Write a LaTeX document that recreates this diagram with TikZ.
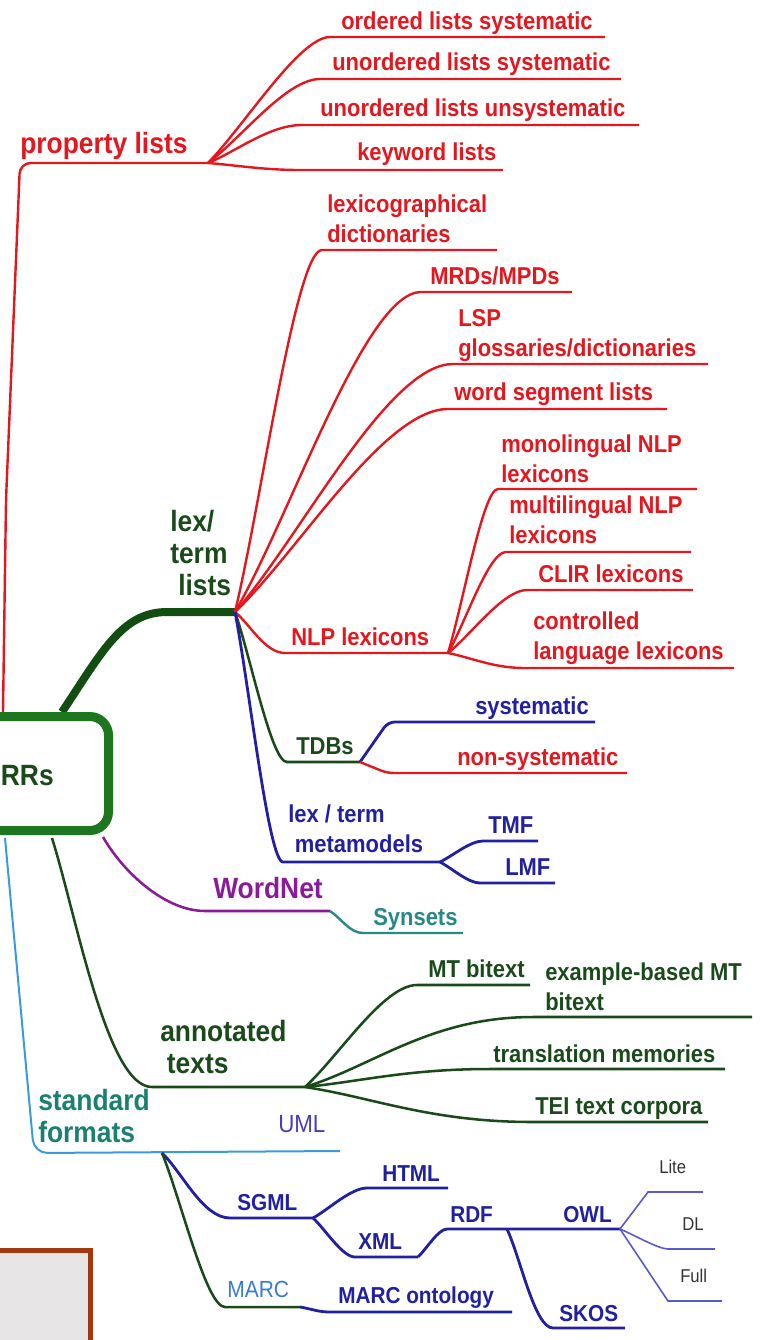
\documentclass[tikz,border=0pt]{standalone}
\usepackage{fontspec}
\setmainfont{Liberation Sans}[FakeStretch=0.9]
\usetikzlibrary{calc}
\definecolor{cred}{RGB}{228,22,30}
\definecolor{dgreen}{RGB}{26,74,26}
\definecolor{tgreen}{RGB}{18,78,18}
\definecolor{bgreen}{RGB}{30,118,30}
\definecolor{cblue}{RGB}{32,32,160}
\definecolor{cpurple}{RGB}{138,26,154}
\definecolor{cteal}{RGB}{40,136,136}
\definecolor{steal}{RGB}{26,128,112}
\definecolor{lblue}{RGB}{58,154,224}
\definecolor{umlc}{RGB}{72,60,192}
\definecolor{marcc}{RGB}{58,122,208}
\definecolor{owlc}{RGB}{90,90,208}
\definecolor{txtgray}{RGB}{50,50,50}
\definecolor{boxfill}{RGB}{231,229,230}
\definecolor{boxbrd}{RGB}{163,56,15}
\tikzset{
  br/.style 2 args={to path={.. controls ($(\tikztostart)!#1!(\tikztotarget)$) and ($(\tikztotarget)!#2!(\tikztostart |- \tikztotarget)$) .. (\tikztotarget) \tikztonodes}},
  brd/.style={br={0.3}{0.3}},
  lf/.style={font=\fontsize{18.3}{22}\selectfont\bfseries, inner sep=0pt, anchor=base west, align=left},
  big/.style={font=\fontsize{22}{24}\selectfont\bfseries, inner sep=0pt, anchor=base west, align=left},
  sm/.style={font=\fontsize{17.3}{21}\selectfont\bfseries, inner sep=0pt, anchor=base west},
  reg/.style={font=\fontsize{17.5}{21}\selectfont, inner sep=0pt, anchor=base west},
  tiny/.style={font=\fontsize{13.9}{16}\selectfont, inner sep=0pt, anchor=base west, text=txtgray},
  redl/.style={draw=cred, line width=1.8pt},
  bluel/.style={draw=cblue, line width=2.1pt},
  greenl/.style={draw=dgreen, line width=1.9pt},
  purpl/.style={draw=cpurple, line width=1.9pt},
  teall/.style={draw=cteal, line width=1.8pt},
  lbl/.style={draw=lblue, line width=1.5pt},
  owll/.style={draw=owlc, line width=1.2pt},
}
\begin{document}
\begin{tikzpicture}[x=0.75pt,y=-0.75pt]
\useasboundingbox (0,0) rectangle (762,1340);

% ---------- property lists ----------
\coordinate (pl0) at (3,712);
\coordinate (plm) at (6,500);
\coordinate (plc) at (20,163);
\coordinate (pf) at (208,163);
\draw[redl, rounded corners=8] (pl0) -- (plm) -- (plc) -- (pf);
\node[big, text=cred] (pl) at (20,153) {property lists};

\coordinate (ols-s) at (330,37);  \coordinate (ols-e) at (605,37);
\coordinate (uls-s) at (320,79);  \coordinate (uls-e) at (621,79);
\coordinate (ulu-s) at (302,125); \coordinate (ulu-e) at (639,125);
\coordinate (kwl-s) at (300,170); \coordinate (kwl-e) at (503,170);
\draw[redl] (pf) to[br={0.3}{0.25}] (ols-s) -- (ols-e);
\draw[redl] (pf) to[br={0.3}{0.3}] (uls-s) -- (uls-e);
\draw[redl] (pf) to[br={0.3}{0.35}] (ulu-s) -- (ulu-e);
\draw[redl] (pf) to[br={0.3}{0.4}] (kwl-s) -- (kwl-e);
\node[lf, text=cred] (ols) at (341,29) {ordered lists systematic};
\node[lf, text=cred] (uls) at (332,70) {unordered lists systematic};
\node[lf, text=cred] (ulu) at (320,116) {unordered lists unsystematic};
\node[lf, text=cred] (kwl) at (357,160) {keyword lists};

% ---------- lex/term lists ----------
\coordinate (lx0) at (62,712);
\coordinate (lxc) at (167,612);
\coordinate (lf) at (235,612);
\draw[draw=tgreen, line width=6pt] (lx0) .. controls +(40,-60) and +(-45,0) .. (lxc) -- (lf);
\node[big, text=dgreen] (lx) at (170,595) {lex/\\term\\\hspace*{6pt}lists};

\coordinate (lex-s) at (322,250); \coordinate (lex-e) at (497,250);
\coordinate (mrd-s) at (421,292); \coordinate (mrd-e) at (572,292);
\coordinate (lsp-s) at (453,364); \coordinate (lsp-e) at (708,364);
\coordinate (wsl-s) at (448,409); \coordinate (wsl-e) at (667,409);
\coordinate (nlp-s) at (285,653); \coordinate (nf) at (448,653);
\draw[redl] (lf) to[brd] (lex-s) -- (lex-e);
\draw[redl] (lf) to[brd] (mrd-s) -- (mrd-e);
\draw[redl] (lf) to[brd] (lsp-s) -- (lsp-e);
\draw[redl] (lf) to[brd] (wsl-s) -- (wsl-e);
\draw[redl] (lf) to[br={0.3}{0.4}] (nlp-s) -- (nf);
\node[lf, text=cred] (lex) at (327,242) {lexicographical\\dictionaries};
\node[lf, text=cred] (mrd) at (430,284) {MRDs/MPDs};
\node[lf, text=cred] (lsp) at (458,356) {LSP\\glossaries/dictionaries};
\node[lf, text=cred] (wsl) at (454,400) {word segment lists};
\node[lf, text=cred] (nlp) at (291,645) {NLP lexicons};

\coordinate (mono-s) at (498,489); \coordinate (mono-e) at (697,489);
\coordinate (mult-s) at (506,552); \coordinate (mult-e) at (691,552);
\coordinate (clir-s) at (527,590); \coordinate (clir-e) at (693,590);
\coordinate (ctrl-s) at (524,668); \coordinate (ctrl-e) at (734,668);
\draw[redl] (nf) to[brd] (mono-s) -- (mono-e);
\draw[redl] (nf) to[brd] (mult-s) -- (mult-e);
\draw[redl] (nf) to[brd] (clir-s) -- (clir-e);
\draw[redl] (nf) to[br={0.3}{0.4}] (ctrl-s) -- (ctrl-e);
\node[lf, text=cred] (mono) at (501,482) {monolingual NLP\\lexicons};
\node[lf, text=cred] (mult) at (509,543) {multilingual NLP\\lexicons};
\node[lf, text=cred] (clir) at (538,582) {CLIR lexicons};
\node[lf, text=cred] (ctrl) at (533,659) {controlled\\language lexicons};

% TDBs
\coordinate (tdb-s) at (287,762); \coordinate (tf) at (360,762);
\draw[greenl] (lf) to[brd] (tdb-s) -- (tf);
\node[lf, text=dgreen] (tdb) at (296,754) {TDBs};
\coordinate (sys-s) at (388,722); \coordinate (sys-e) at (595,722);
\coordinate (nsy-s) at (387,773); \coordinate (nsy-e) at (627,773);
\draw[bluel, rounded corners=5] (tf) -- (sys-s) -- (sys-e);
\draw[redl, rounded corners=5] (tf) -- (nsy-s) -- (nsy-e);
\node[lf, text=cblue] (sys) at (475,714) {systematic};
\node[lf, text=cred] (nsy) at (457,765) {non-systematic};

% metamodels
\coordinate (mm-s) at (283,862); \coordinate (mf) at (440,862);
\draw[bluel] (lf) to[brd] (mm-s) -- (mf);
\node[lf, text=cblue] (mm) at (288,852) {lex / term\\\hspace*{5pt}metamodels};
\coordinate (tmf-s) at (483,841); \coordinate (tmf-e) at (538,841);
\coordinate (lmf-s) at (480,883); \coordinate (lmf-e) at (555,883);
\draw[bluel] (mf) to[brd] (tmf-s) -- (tmf-e);
\draw[bluel] (mf) to[brd] (lmf-s) -- (lmf-e);
\node[lf, text=cblue] (tmf) at (488,833) {TMF};
\node[lf, text=cblue] (lmf) at (505,875) {LMF};

% ---------- WordNet ----------
\coordinate (wn0) at (103,837);
\coordinate (wn-s) at (205,911); \coordinate (wf) at (330,911);
\draw[purpl] (wn0) .. controls +(20,35) and +(-40,0) .. (wn-s) -- (wf);
\node[big, text=cpurple] (wn) at (213,898) {WordNet};
\coordinate (syn-s) at (363,933); \coordinate (syn-e) at (463,933);
\draw[teall] (wf) to[br={0.35}{0.4}] (syn-s) -- (syn-e);
\node[lf, text=cteal] (syn) at (373,925) {Synsets};

% ---------- annotated texts ----------
\coordinate (at0) at (52,838);
\coordinate (at-s) at (152,1087); \coordinate (af) at (305,1087);
\draw[greenl] (at0) .. controls +(25,80) and +(-45,0) .. (at-s) -- (af);
\node[big, text=dgreen] (at) at (160,1073) {annotated\\\hspace*{5pt}texts};
\coordinate (mt-s) at (417,985);  \coordinate (mt-e) at (530,985);
\coordinate (eb-s) at (533,1017); \coordinate (eb-e) at (752,1017);
\coordinate (tm-s) at (490,1069); \coordinate (tm-e) at (725,1069);
\coordinate (tei-s) at (533,1122); \coordinate (tei-e) at (708,1122);
\draw[greenl] (af) to[br={0.3}{0.3}] (mt-s) -- (mt-e);
\draw[greenl] (af) to[br={0.3}{0.45}] (eb-s) -- (eb-e);
\draw[greenl] (af) to[br={0.3}{0.45}] (tm-s) -- (tm-e);
\draw[greenl] (af) to[br={0.3}{0.45}] (tei-s) -- (tei-e);
\node[lf, text=dgreen] (mt) at (428,977) {MT bitext};
\node[lf, text=dgreen] (eb) at (545,1010) {example-based MT\\bitext};
\node[lf, text=dgreen] (tm) at (493,1062) {translation memories};
\node[lf, text=dgreen] (tei) at (535,1114) {TEI text corpora};

% ---------- standard formats ----------
\coordinate (sf0) at (5,838);
\coordinate (sfc) at (34,1153);
\coordinate (sfe) at (340,1151);
\coordinate (sff) at (162,1153);
\draw[lbl, rounded corners=10] (sf0) -- (sfc) -- (sfe);
\node[big, text=steal] (sf) at (38,1142) {standard\\formats};
\node[reg, text=umlc, font=\fontsize{18.6}{21}\selectfont] (uml) at (278,1132) {UML};

\coordinate (sg-s) at (230,1218); \coordinate (sgf) at (313,1218);
\draw[bluel] (sff) to[br={0.3}{0.4}] (sg-s) -- (sgf);
\node[sm, text=cblue] (sg) at (237,1210) {SGML};
\coordinate (ht-s) at (367,1188); \coordinate (ht-e) at (448,1188);
\coordinate (xm-s) at (355,1257); \coordinate (xf) at (418,1257);
\draw[bluel] (sgf) to[brd] (ht-s) -- (ht-e);
\draw[bluel] (sgf) to[brd] (xm-s) -- (xf);
\node[sm, text=cblue] (ht) at (382,1181) {HTML};
\node[sm, text=cblue] (xm) at (358,1249) {XML};
\coordinate (rd-s) at (447,1229); \coordinate (rf) at (507,1229); \coordinate (of) at (620,1229);
\draw[bluel] (xf) to[brd] (rd-s) -- (rf) -- (of);
\node[sm, text=cblue] (rd) at (450,1222) {RDF};
\node[sm, text=cblue] (ow) at (563,1222) {OWL};
\coordinate (sk-s) at (553,1328); \coordinate (sk-e) at (625,1328);
\draw[bluel] (rf) to[br={0.3}{0.4}] (sk-s) -- (sk-e);
\node[sm, text=cblue] (sk) at (559,1321) {SKOS};
\coordinate (li-s) at (648,1192); \coordinate (li-e) at (703,1192);
\coordinate (dl-s) at (668,1249); \coordinate (dl-e) at (715,1249);
\coordinate (fu-s) at (668,1301); \coordinate (fu-e) at (722,1301);
\draw[owll] (of) -- (li-s) -- (li-e);
\draw[owll] (of) to[br={0.3}{0.2}] (dl-s) -- (dl-e);
\draw[owll] (of) -- (fu-s) -- (fu-e);
\node[tiny] (li) at (659,1173) {Lite};
\node[tiny] (dl) at (682,1230) {DL};
\node[tiny] (fu) at (680,1282) {Full};

\coordinate (mc-s) at (225,1307); \coordinate (mcf) at (300,1307);
\draw[greenl] (sff) to[br={0.3}{0.3}] (mc-s) -- (mcf);
\node[reg, text=marcc] (mc) at (227,1297) {MARC};
\coordinate (mo-s) at (330,1312); \coordinate (mo-e) at (512,1312);
\draw[bluel] (mcf) to[br={0.4}{0.4}] (mo-s) -- (mo-e);
\node[sm, text=cblue] (mo) at (338,1303) {MARC ontology};

% ---------- central box ----------
\draw[draw=bgreen, line width=6.75pt, rounded corners=14, fill=white] (-30,716.5) rectangle (108.5,830.5);
\node[big, text=dgreen, anchor=base east] (lrr) at (54,785) {RRs};

% ---------- bottom-left box ----------
\draw[draw=boxbrd, fill=boxfill, line width=3.75pt] (-10,1250.5) rectangle (90,1360);
\end{tikzpicture}
\end{document}
